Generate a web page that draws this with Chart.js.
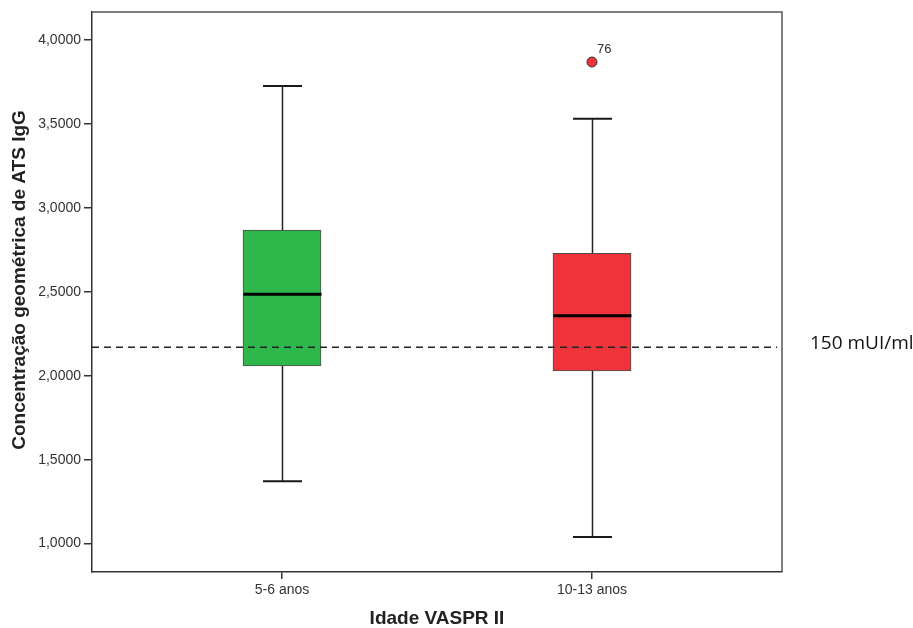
<!DOCTYPE html>
<html>
<head>
<meta charset="utf-8">
<script src="https://cdn.jsdelivr.net/npm/chart.js@4/dist/chart.umd.min.js"></script>
<style>
  html, body { margin: 0; padding: 0; background: #ffffff; }
  #wrap { width: 913px; height: 628px; }
</style>
</head>
<body>
<div id="wrap"><canvas id="c" width="913" height="628"></canvas></div>
<script>
// ---- Data ----
const categories   = ['5-6 anos', '10-13 anos'];
const whiskerLow   = [1.372, 1.040];
const quartile1    = [2.059, 2.029];
const medians      = [2.486, 2.357];
const quartile3    = [2.868, 2.729];
const whiskerHigh  = [3.726, 3.531];
const outlierGroup = [2];
const outlierValue = [3.869];
const outlierLabel = ['76'];
const yTickValues  = [1.0, 1.5, 2.0, 2.5, 3.0, 3.5, 4.0];
const referenceValue = 2.17;
const referenceLabel = '150 mUI/ml';
const xTitle = 'Idade VASPR II';
const yTitle = 'Concentração geométrica de ATS IgG';

// ---- Styling ----
const boxColors = ['#2EB74A', '#F0323A'];
const X_MIN = 0.387, X_MAX = 2.613;
const Y_MIN = 0.831, Y_MAX = 4.167;
const FONT = '"Liberation Sans", Arial, sans-serif';

const boxPlugin = {
  id: 'boxExtras',
  beforeDatasetsDraw(chart) {
    const ctx = chart.ctx, xs = chart.scales.x, ys = chart.scales.y;
    ctx.save();
    ctx.strokeStyle = '#222';
    ctx.lineWidth = 1.5;
    categories.forEach((c, i) => {
      const px = Math.round(xs.getPixelForValue(i + 1)) + 0.5;
      ctx.beginPath();
      ctx.moveTo(px, ys.getPixelForValue(quartile3[i]));
      ctx.lineTo(px, ys.getPixelForValue(whiskerHigh[i]));
      ctx.moveTo(px, ys.getPixelForValue(quartile1[i]));
      ctx.lineTo(px, ys.getPixelForValue(whiskerLow[i]));
      ctx.stroke();
    });
    ctx.restore();
  },
  afterDatasetsDraw(chart) {
    const ctx = chart.ctx, xs = chart.scales.x, ys = chart.scales.y;
    const area = chart.chartArea;
    const barMeta = chart.getDatasetMeta(2);
    ctx.save();
    categories.forEach((c, i) => {
      const px = Math.round(xs.getPixelForValue(i + 1)) + 0.5;
      const w = barMeta.data[i].width;
      // median
      ctx.strokeStyle = '#000';
      ctx.lineWidth = 3;
      ctx.beginPath();
      const my = ys.getPixelForValue(medians[i]);
      ctx.moveTo(px - w / 2, my);
      ctx.lineTo(px + w / 2, my);
      ctx.stroke();
      // caps
      ctx.strokeStyle = '#1a1a1a';
      ctx.lineWidth = 2;
      ctx.beginPath();
      const hy = ys.getPixelForValue(whiskerHigh[i]);
      const ly = ys.getPixelForValue(whiskerLow[i]);
      ctx.moveTo(px - w / 4, hy); ctx.lineTo(px + w / 4, hy);
      ctx.moveTo(px - w / 4, ly); ctx.lineTo(px + w / 4, ly);
      ctx.stroke();
    });
    // outlier labels
    ctx.fillStyle = '#333';
    ctx.font = '13px ' + FONT;
    ctx.textAlign = 'left';
    ctx.textBaseline = 'alphabetic';
    outlierValue.forEach((v, k) => {
      const px = xs.getPixelForValue(outlierGroup[k]);
      const py = ys.getPixelForValue(v);
      ctx.fillText(outlierLabel[k], px + 5, py - 9);
    });
    // frame top/right
    ctx.strokeStyle = '#555';
    ctx.lineWidth = 1.5;
    ctx.beginPath();
    ctx.moveTo(area.left, area.top);
    ctx.lineTo(area.right, area.top);
    ctx.lineTo(area.right, area.bottom);
    ctx.stroke();
    // reference label
    ctx.fillStyle = '#111';
    ctx.font = '19px "Open Sans", sans-serif';
    ctx.textBaseline = 'middle';
    ctx.fillText(referenceLabel, area.right + 28, ys.getPixelForValue(referenceValue) - 4);
    // axis titles
    ctx.fillStyle = '#222';
    ctx.font = 'bold 19px ' + FONT;
    ctx.textAlign = 'center';
    ctx.textBaseline = 'middle';
    ctx.fillText(xTitle, (area.left + area.right) / 2, 619);
    ctx.translate(20, 280);
    ctx.rotate(-Math.PI / 2);
    ctx.fillText(yTitle, 0, 0);
    ctx.restore();
  }
};

new Chart(document.getElementById('c'), {
  type: 'bar',
  data: {
    datasets: [
      {
        type: 'line',
        data: [{ x: X_MIN, y: referenceValue }, { x: X_MAX - 0.016, y: referenceValue }],
        borderColor: '#222',
        borderWidth: 1.3,
        borderDash: [7, 5],
        pointRadius: 0,
        fill: false,
        order: 0
      },
      {
        type: 'scatter',
        data: outlierValue.map((v, k) => ({ x: outlierGroup[k], y: v })),
        backgroundColor: boxColors[1],
        borderColor: '#333',
        borderWidth: 1,
        pointRadius: 5,
        order: 1
      },
      {
        type: 'bar',
        data: categories.map((c, i) => ({ x: i + 1, y: [quartile1[i], quartile3[i]] })),
        backgroundColor: boxColors,
        borderColor: '#4d4d4d',
        borderWidth: 1,
        borderSkipped: false,
        barThickness: 78,
        order: 2
      }
    ]
  },
  options: {
    responsive: false,
    animation: false,
    devicePixelRatio: 1,
    layout: { padding: { top: 12, right: 131, left: 0, bottom: 0 } },
    plugins: { legend: { display: false }, tooltip: { enabled: false } },
    scales: {
      x: {
        type: 'linear',
        min: X_MIN,
        max: X_MAX,
        offset: false,
        afterBuildTicks: s => { s.ticks = categories.map((c, i) => ({ value: i + 1 })); },
        afterFit: s => { s.height = 56; },
        ticks: {
          callback: v => categories[Math.round(v) - 1],
          font: { family: FONT, size: 14 },
          color: '#333',
          padding: 3,
          maxRotation: 0,
          autoSkip: false
        },
        grid: { offset: false, drawOnChartArea: false, drawTicks: true, tickLength: 7, color: '#333', lineWidth: 1.5 },
        border: { display: true, color: '#333', width: 1.5 }
      },
      y: {
        type: 'linear',
        min: Y_MIN,
        max: Y_MAX,
        afterBuildTicks: s => { s.ticks = yTickValues.map(v => ({ value: v })); },
        afterFit: s => { s.width = 92; },
        ticks: {
          callback: v => Number(v).toFixed(4).replace('.', ','),
          font: { family: FONT, size: 14 },
          color: '#333',
          padding: 3
        },
        grid: { drawOnChartArea: false, drawTicks: true, tickLength: 8, color: '#333', lineWidth: 1.5 },
        border: { display: true, color: '#333', width: 1.5 }
      }
    }
  },
  plugins: [boxPlugin]
});
</script>
</body>
</html>
